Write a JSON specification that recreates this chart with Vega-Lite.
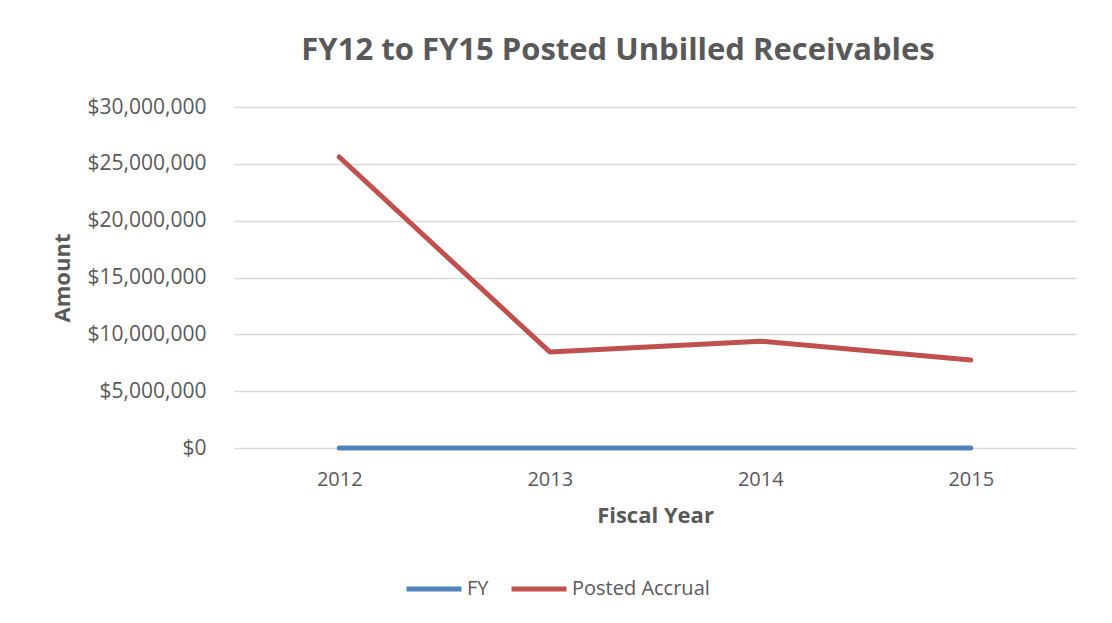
{
  "$schema": "https://vega.github.io/schema/vega-lite/v6.json",
  "width": 842,
  "height": 341,
  "autosize": {"type": "none"},
  "padding": {"left": 234, "top": 107, "right": 36, "bottom": 175},
  "background": "white",
  "title": {
    "text": "FY12 to FY15 Posted Unbilled Receivables",
    "font": "Open Sans",
    "fontSize": 31,
    "fontWeight": "bold",
    "color": "#595959",
    "anchor": "middle",
    "dx": -37,
    "offset": 29
  },
  "config": {
    "view": {"stroke": null},
    "font": "Open Sans"
  },
  "data": {
    "values": [
      {"year": "2012", "series": "FY", "amount": 2012},
      {"year": "2013", "series": "FY", "amount": 2013},
      {"year": "2014", "series": "FY", "amount": 2014},
      {"year": "2015", "series": "FY", "amount": 2015},
      {"year": "2012", "series": "Posted Accrual", "amount": 25600000},
      {"year": "2013", "series": "Posted Accrual", "amount": 8450000},
      {"year": "2014", "series": "Posted Accrual", "amount": 9400000},
      {"year": "2015", "series": "Posted Accrual", "amount": 7750000}
    ]
  },
  "mark": {"type": "line", "strokeWidth": 5, "strokeCap": "round", "strokeJoin": "round"},
  "encoding": {
    "x": {
      "field": "year",
      "type": "ordinal",
      "scale": {"type": "point", "padding": 0.5},
      "axis": {
        "title": "Fiscal Year",
        "titleFont": "Open Sans",
        "titleFontSize": 22,
        "titleFontWeight": "bold",
        "titleColor": "#595959",
        "titlePadding": 16,
        "labelAngle": 0,
        "labelFontSize": 20,
        "labelColor": "#595959",
        "labelPadding": 21,
        "ticks": false,
        "domain": false,
        "grid": false
      }
    },
    "y": {
      "field": "amount",
      "type": "quantitative",
      "scale": {"domain": [0, 30000000]},
      "axis": {
        "title": "Amount",
        "titleFont": "Open Sans",
        "titleFontSize": 22,
        "titleFontWeight": "bold",
        "titleColor": "#595959",
        "titlePadding": 13,
        "values": [0, 5000000, 10000000, 15000000, 20000000, 25000000, 30000000],
        "format": "$,.0f",
        "labelFontSize": 21,
        "labelColor": "#595959",
        "labelPadding": 28,
        "ticks": false,
        "domain": false,
        "grid": true,
        "gridColor": "#D9D9D9",
        "gridWidth": 1.5
      }
    },
    "color": {
      "field": "series",
      "type": "nominal",
      "scale": {"domain": ["FY", "Posted Accrual"], "range": ["#4F81BD", "#C0504D"]},
      "legend": {
        "title": null,
        "orient": "none",
        "direction": "horizontal",
        "legendX": 170,
        "legendY": 452,
        "symbolType": "stroke",
        "symbolSize": 3025,
        "symbolStrokeWidth": 5,
        "labelFontSize": 20,
        "labelColor": "#595959",
        "labelOffset": 3,
        "columnPadding": 12
      }
    }
  }
}
